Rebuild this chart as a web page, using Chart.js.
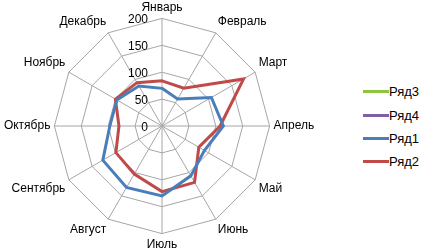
<!DOCTYPE html>
<html>
<head>
<meta charset="utf-8">
<script src="https://cdn.jsdelivr.net/npm/chart.js@4.4.0/dist/chart.umd.min.js"></script>
<style>
  body { margin: 0; background: #fff; }
  #wrap { position: relative; width: 421px; height: 252px; }
  #box { position: absolute; left: 0; top: 0; width: 320px; height: 252px; }
  #legend { position: absolute; left: 363px; top: 80px; font: 13px "Liberation Sans", Arial, sans-serif; color: #000; }
  #legend div { height: 23.4px; display: flex; align-items: center; }
  #legend span.ln { display: inline-block; width: 26px; height: 3px; margin-right: 0px; }
</style>
</head>
<body>
<div id="wrap">
  <div id="box"><canvas id="radarChart"></canvas></div>
  <div id="legend"></div>
</div>
<script>
const months = ['Январь', 'Февраль', 'Март', 'Апрель', 'Май', 'Июнь',
    'Июль', 'Август', 'Сентябрь', 'Октябрь', 'Ноябрь', 'Декабрь'];
const row1 = [70, 58, 106, 114, 91, 107, 130, 132, 127, 97, 97, 86];
const row2 = [84, 81, 175, 108, 79, 121, 122, 103, 99, 80, 100, 93];
const row3 = [];
const row4 = [];
const tickValues = [0, 50, 100, 150, 200];

const series = [
    { label: 'Ряд3', data: row3, color: '#8cc63f' },
    { label: 'Ряд4', data: row4, color: '#7f5fa6' },
    { label: 'Ряд1', data: row1, color: '#4a7ebb' },
    { label: 'Ряд2', data: row2, color: '#be4b48' }
];

document.addEventListener('DOMContentLoaded', function() {
    const ctx = document.getElementById('radarChart').getContext('2d');
    const font = '"Liberation Sans", Arial, sans-serif';

    // tick labels right-aligned left of the vertical axis, like Excel
    const tickLabels = {
        id: 'tickLabels',
        beforeDatasetsDraw(chart) {
            const s = chart.scales.r;
            const c = chart.ctx;
            c.save();
            c.font = '12px ' + font;
            c.fillStyle = '#000';
            c.textAlign = 'right';
            c.textBaseline = 'middle';
            tickValues.forEach(function(v) {
                const d = s.getDistanceFromCenterForValue(v);
                c.fillText(String(v), s.xCenter - 14, s.yCenter - d + 1.5);
            });
            c.restore();
        }
    };

    new Chart(ctx, {
        type: 'radar',
        data: {
            labels: months,
            datasets: series.map(function(s) {
                return {
                    label: s.label,
                    data: s.data,
                    borderColor: s.color,
                    backgroundColor: s.color,
                    borderWidth: 3,
                    pointRadius: 0,
                    fill: false,
                    tension: 0
                };
            })
        },
        options: {
            responsive: true,
            maintainAspectRatio: false,
            animation: false,
            layout: { padding: 0 },
            plugins: {
                legend: { display: false },
                tooltip: { enabled: false }
            },
            scales: {
                r: {
                    min: 0,
                    max: 200,
                    ticks: { stepSize: 50, display: false },
                    grid: { color: '#a6a6a6', lineWidth: 1 },
                    angleLines: { color: '#a6a6a6', lineWidth: 1 },
                    pointLabels: {
                        color: '#000',
                        padding: 4,
                        font: { family: font, size: 12 }
                    }
                }
            }
        },
        plugins: [tickLabels]
    });

    const legend = document.getElementById('legend');
    series.forEach(function(s) {
        const row = document.createElement('div');
        row.innerHTML = '<span class="ln" style="background:' + s.color + '"></span>' + s.label;
        legend.appendChild(row);
    });
});
</script>
</body>
</html>
